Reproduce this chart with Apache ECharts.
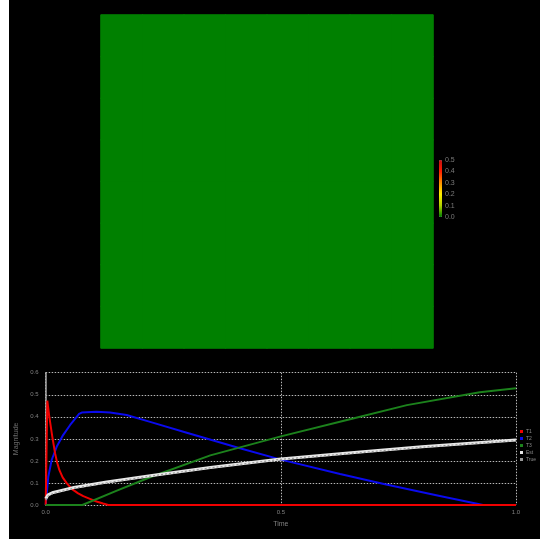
<!DOCTYPE html>
<html>
<head>
<meta charset="utf-8">
<script src="https://cdn.jsdelivr.net/npm/echarts@6/dist/echarts.min.js"></script>
<style>
  html, body { margin: 0; padding: 0; background: #ffffff; }
  #chart { position: absolute; left: 9px; top: 0; width: 531px; height: 539px; background: #000000; }
</style>
</head>
<body>
<div id="chart"></div>
<script>
// ---- data ----
const heatRows = [
  [0,0,0,0,0,0,0,0],
  [0,0,0,0,0,0,0,0],
  [0,0,0,0,0,0,0,0],
  [0,0,0,0,0,0,0,0],
  [0,0,0,0,0,0,0,0],
  [0,0,0,0,0,0,0,0],
  [0,0,0,0,0,0,0,0],
  [0,0,0,0,0,0,0,0]
];
const colorbarTicks = [0.0, 0.1, 0.2, 0.3, 0.4, 0.5];
const xTicks = [0.0, 0.5, 1.0];
const yTicks = [0.0, 0.1, 0.2, 0.3, 0.4, 0.5, 0.6];

const t1 = [[0,0],[0.0034,0.473],[0.0077,0.40],[0.014,0.31],[0.020,0.234],[0.024,0.195],[0.029,0.159],[0.036,0.125],[0.045,0.098],[0.056,0.072],[0.069,0.053],[0.080,0.040],[0.094,0.028],[0.108,0.016],[0.122,0.007],[0.133,0],[1.0,0]];
const t2 = [[0,0],[0.0055,0.128],[0.0127,0.204],[0.0233,0.264],[0.037,0.317],[0.052,0.363],[0.071,0.413],[0.0765,0.419],[0.108,0.423],[0.137,0.420],[0.172,0.408],[0.222,0.377],[0.30,0.328],[0.413,0.257],[0.498,0.207],[0.626,0.141],[0.719,0.095],[0.838,0.041],[0.93,0],[1.0,0]];
const t3 = [[0,0],[0.078,0],[0.15,0.064],[0.222,0.126],[0.35,0.225],[0.498,0.31],[0.647,0.389],[0.768,0.453],[0.923,0.511],[1.0,0.529]];
const est = [[0,0.028],[0.005,0.046],[0.016,0.057],[0.06,0.079],[0.13,0.104],[0.23,0.135],[0.35,0.170],[0.5,0.209],[0.65,0.237],[0.8,0.264],[1.0,0.295]];
const truth = [[0,0.022],[0.005,0.040],[0.016,0.053],[0.06,0.076],[0.13,0.101],[0.23,0.133],[0.35,0.168],[0.5,0.207],[0.65,0.234],[0.8,0.262],[1.0,0.292]];

// ---- build ----
const heatData = [];
heatRows.forEach((row, j) => row.forEach((v, i) => heatData.push([i, j, v])));
const idx = heatRows[0].map((_, i) => i);

const chart = echarts.init(document.getElementById('chart'));
const labelColor = '#808080';
chart.setOption({
  backgroundColor: '#000000',
  animation: false,
  grid: [
    { left: 92, top: 15, width: 332, height: 333, outerBoundsMode: 'none', containLabel: false },
    { left: 36.7, top: 372.7, width: 470.3, height: 132.3, outerBoundsMode: 'none', containLabel: false },
    { left: 430, top: 160, width: 3, height: 57, outerBoundsMode: 'none', containLabel: false }
  ],
  xAxis: [
    { gridIndex: 0, type: 'category', data: idx, show: false },
    { gridIndex: 1, type: 'value', min: 0, max: 1, interval: 0.5,
      name: 'Time', nameLocation: 'middle', nameGap: 16,
      nameTextStyle: { color: labelColor, fontSize: 7 },
      axisLine: { show: false }, axisTick: { show: false },
      axisLabel: { color: labelColor, fontSize: 6, margin: 4, formatter: v => v.toFixed(1) },
      splitLine: { show: true, lineStyle: { color: '#b8b8b8', type: [1.5, 1.5], width: 1 } } },
    { gridIndex: 2, type: 'value', show: false, min: 0, max: 1 }
  ],
  yAxis: [
    { gridIndex: 0, type: 'category', data: idx, show: false },
    { gridIndex: 1, type: 'value', min: 0, max: 0.6, interval: 0.1,
      name: 'Magnitude', nameLocation: 'middle', nameGap: 21,
      nameTextStyle: { color: '#6a6a6a', fontSize: 7 },
      axisLine: { show: true, lineStyle: { color: '#a8a8a8', width: 1.5 } },
      axisTick: { show: false },
      axisLabel: { color: labelColor, fontSize: 6, margin: 7, formatter: v => v.toFixed(1) },
      splitLine: { show: true, lineStyle: { color: '#b8b8b8', type: [1.5, 1.5], width: 1 } } },
    { gridIndex: 2, type: 'value', min: 0, max: 0.5, interval: 0.1, position: 'right',
      axisLine: { show: false }, axisTick: { show: false }, splitLine: { show: false },
      axisLabel: { color: '#7a7a7a', fontSize: 7, margin: 3, formatter: v => v.toFixed(1) } }
  ],
  visualMap: {
    type: 'continuous', min: 0, max: 0.5, seriesIndex: 0,
    left: 430, top: 160, itemWidth: 3, itemHeight: 57, padding: 0,
    text: null, calculable: false, showLabel: false,
    inRange: { color: ['#008000', '#b0d000', '#ffee00', '#ff9000', '#ff2000', '#c01010'] },
    textStyle: { color: 'transparent' }
  },
  legend: {
    data: ['T1', 'T2', 'T3', 'Est', 'True'],
    orient: 'vertical', left: 511, top: 429, padding: 0,
    itemWidth: 3, itemHeight: 3, itemGap: 2, icon: 'rect',
    textStyle: { color: '#8a8a8a', fontSize: 5, padding: [0, 0, 0, -2], lineHeight: 4 }
  },
  series: [
    { type: 'heatmap', xAxisIndex: 0, yAxisIndex: 0, data: heatData,
      itemStyle: { borderWidth: 1, borderColor: '#008000' } },
    { name: 'T1', type: 'line', xAxisIndex: 1, yAxisIndex: 1, data: t1, showSymbol: false, z: 3,
      color: '#f00000', lineStyle: { color: '#f00000', width: 2 } },
    { name: 'T2', type: 'line', xAxisIndex: 1, yAxisIndex: 1, data: t2, showSymbol: false, z: 2,
      color: '#0a0aee', lineStyle: { color: '#0a0aee', width: 2 } },
    { name: 'T3', type: 'line', xAxisIndex: 1, yAxisIndex: 1, data: t3, showSymbol: false, z: 3,
      color: '#1c821c', lineStyle: { color: '#1c821c', width: 2 } },
    { name: 'Est', type: 'line', xAxisIndex: 1, yAxisIndex: 1, data: est, showSymbol: false, z: 4,
      color: '#e8e8e8', lineStyle: { color: '#e8e8e8', width: 3 } },
    { name: 'True', type: 'line', xAxisIndex: 1, yAxisIndex: 1, data: truth, showSymbol: false, z: 5,
      color: '#9a9a9a', lineStyle: { color: '#9a9a9a', width: 1.2, type: [2, 2] } },
    { type: 'line', xAxisIndex: 2, yAxisIndex: 2, data: [], silent: true }
  ]
});
</script>
</body>
</html>
